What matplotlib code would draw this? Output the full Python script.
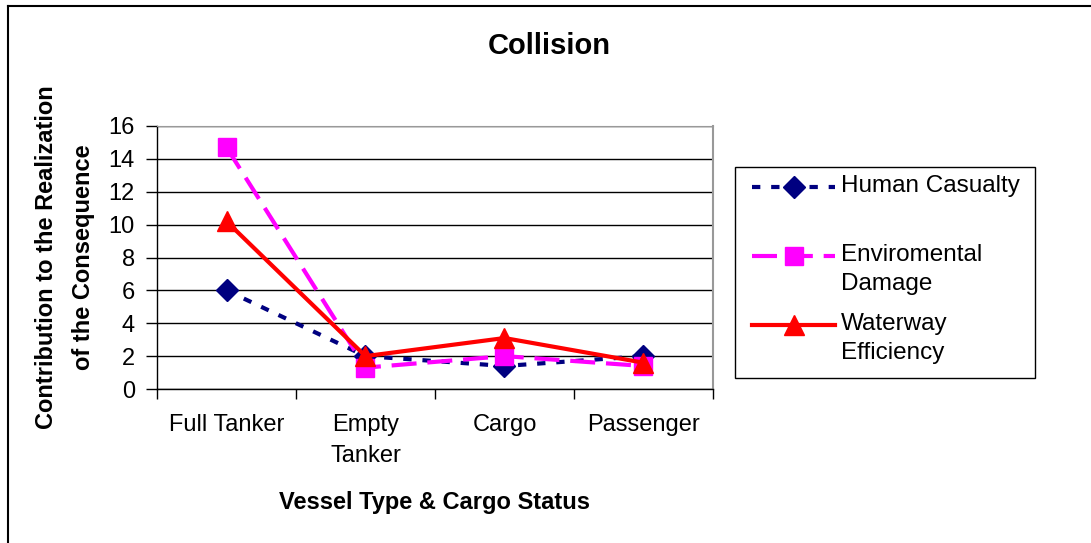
import matplotlib
matplotlib.use("Agg")
import matplotlib.pyplot as plt
from matplotlib.lines import Line2D
from matplotlib.patches import Rectangle
import numpy as np

plt.rcParams['font.family'] = ['Liberation Sans', 'DejaVu Sans']

categories = ["Full Tanker", "Empty\nTanker", "Cargo", "Passenger"]
human_casualty = [6.0, 2.0, 1.4, 2.0]
environmental_damage = [14.7, 1.3, 2.0, 1.4]
waterway_efficiency = [10.2, 2.0, 3.1, 1.6]
series_labels = ["Human Casualty", "Enviromental\nDamage", "Waterway\nEfficiency"]
y_ticks = [0, 2, 4, 6, 8, 10, 12, 14, 16]

W, H = 1091, 543
fig = plt.figure(figsize=(W / 100, H / 100), dpi=100)
ax = fig.add_axes([157 / W, 1 - 389 / H, (713 - 157) / W, (389 - 126) / H])

styles = [
    dict(color="#000080", lw=3, linestyle=(0, (2, 2.6)), marker="D", markersize=11),
    dict(color="#FF00FF", lw=3, linestyle=(0, (6, 2.6)), marker="s", markersize=13),
    dict(color="#FF0000", lw=3, linestyle="-", marker="^", markersize=15),
]

x = np.arange(len(categories)) + 0.5
series = [human_casualty, environmental_damage, waterway_efficiency]
for i, (vals, st) in enumerate(zip(series, styles)):
    ax.plot(x, vals, markerfacecolor=st["color"], markeredgecolor=st["color"],
            zorder=3 + i, **st)

ax.set_xlim(0, 4)
ax.set_ylim(0, 16)
ax.set_yticks(y_ticks)
ax.set_yticklabels([str(v) for v in y_ticks], fontsize=17)
ax.set_xticks(np.arange(0, 5))
ax.set_xticklabels([])
ax.set_xticks(x, minor=True)
ax.set_xticklabels(categories, minor=True, fontsize=17, linespacing=1.5)
ax.tick_params(axis="x", which="minor", length=0, pad=18)
ax.tick_params(axis="x", which="major", length=7, width=1, color="black", direction="out")
ax.tick_params(axis="y", length=8, width=1, color="black", direction="out", pad=8)

ax.grid(axis="y", color="black", lw=1)
ax.set_axisbelow(True)
for side in ("left", "bottom"):
    ax.spines[side].set_color("black")
    ax.spines[side].set_linewidth(1)
ax.spines["right"].set_color("#999999")
ax.spines["top"].set_color("#999999")
ax.spines["right"].set_linewidth(1.5)

ax.set_xlabel("Vessel Type & Cargo Status", fontsize=17, fontweight="bold", labelpad=18)
fig.text(65 / W, 1 - 257 / H, "Contribution to the Realization\nof the Consequence",
         rotation=90, ha="center", va="center", fontsize=17, fontweight="bold",
         linespacing=1.75)
fig.text(549 / W, 1 - 46 / H, "Collision", ha="center", va="center",
         fontsize=21, fontweight="bold")

# legend box with equal-pitch entries, handles aligned to the first text line
fig.add_artist(Rectangle((735 / W, 1 - 378 / H), 300 / W, 211 / H, fill=False,
                         edgecolor="black", lw=1, transform=fig.transFigure))
row_y = [187, 256, 325]
for label, st, yy in zip(series_labels, styles, row_y):
    yf = 1 - yy / H
    fig.add_artist(Line2D([752 / W, 835 / W], [yf, yf], transform=fig.transFigure,
                          color=st["color"], lw=st["lw"], linestyle=st["linestyle"]))
    fig.add_artist(Line2D([793.5 / W], [yf], transform=fig.transFigure,
                          color=st["color"], marker=st["marker"],
                          markersize=st["markersize"], linestyle="none"))
    fig.text(841 / W, 1 - (yy - 12) / H, label, ha="left", va="top",
             fontsize=17.5, linespacing=1.4)

# outer frame (top and left edges)
fig.add_artist(Line2D([8 / W, 1], [1 - 6 / H, 1 - 6 / H], color="black", lw=1.5,
                      transform=fig.transFigure))
fig.add_artist(Line2D([8 / W, 8 / W], [0, 1 - 6 / H], color="black", lw=1.5,
                      transform=fig.transFigure))

fig.savefig("out.png", dpi=100)
